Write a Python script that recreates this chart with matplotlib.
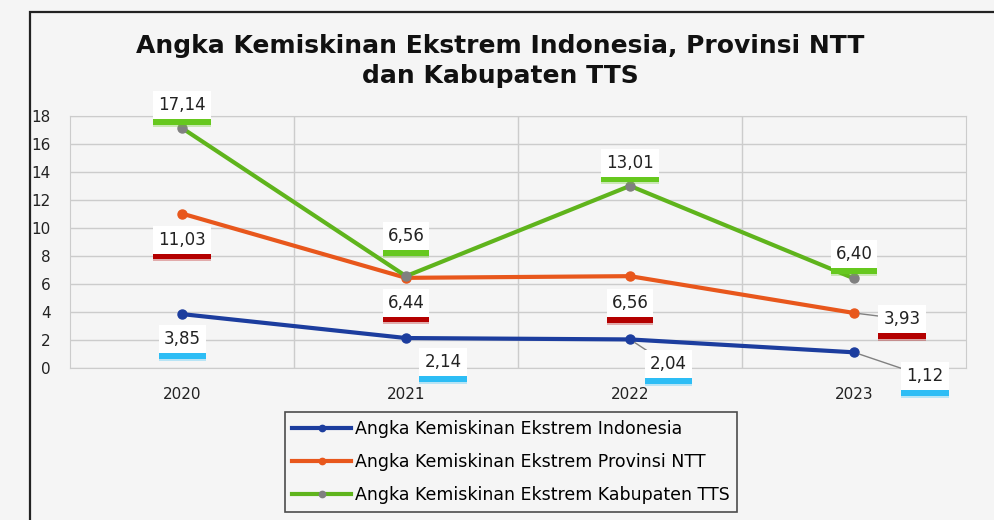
import matplotlib.pyplot as plt
import matplotlib.patheffects as pe
from matplotlib.patches import Rectangle

plt.rcParams['font.family'] = ['DejaVu Sans']

tahun = ['2020', '2021', '2022', '2023']
indonesia = [3.85, 2.14, 2.04, 1.12]
ntt = [11.03, 6.44, 6.56, 3.93]
tts = [17.14, 6.56, 13.01, 6.40]
seri = ['Angka Kemiskinan Ekstrem Indonesia',
        'Angka Kemiskinan Ekstrem Provinsi NTT',
        'Angka Kemiskinan Ekstrem Kabupaten TTS']

biru = '#1c3d9e'
oranye = '#e8571c'
hijau = '#5fb41c'
latar = '#f5f5f5'

fig = plt.figure(figsize=(9.94, 5.2), dpi=100, facecolor=latar)
# bingkai luar
fig.patches.append(Rectangle((30 / 994, -0.05), 1.0, 1 - 12 / 520 + 0.05,
                             transform=fig.transFigure, fill=False,
                             edgecolor='#222222', linewidth=1.6))
ax = fig.add_axes([70 / 994, 152 / 520, 896 / 994, 252 / 520])
ax.set_facecolor(latar)

x = list(range(len(tahun)))
ax.plot(x, indonesia, color=biru, lw=3, marker='o', ms=6.5, label=seri[0], zorder=3)
ax.plot(x, ntt, color=oranye, lw=3, marker='o', ms=6.5, label=seri[1], zorder=3)
ax.plot(x, tts, color=hijau, lw=3, marker='o', ms=6.5, mfc='#808080', mec='#808080',
        label=seri[2], zorder=3)

ax.set_xlim(-0.5, 3.5)
ax.set_ylim(0, 18)
ax.set_yticks(range(0, 19, 2))
ax.set_xticks(x)
ax.set_xticklabels(tahun)
ax.set_xticks([0.5, 1.5, 2.5], minor=True)
ax.grid(axis='y', color='#cccccc', lw=1)
ax.grid(axis='x', which='minor', color='#cccccc', lw=1)
ax.tick_params(length=0, labelsize=11, colors='#222222', which='both')
ax.tick_params(axis='x', pad=14)
ax.tick_params(axis='y', pad=14)
for s in ax.spines.values():
    s.set_color('#cccccc')

fig.text(0.503, 1 - 61 / 520, 'Angka Kemiskinan Ekstrem Indonesia, Provinsi NTT\ndan Kabupaten TTS',
         ha='center', va='center', fontsize=18, fontweight='bold', color='#111111',
         linespacing=1.3)


def label(xi, yi, teks, warna, dx, dy, garis=False):
    kw = dict(xy=(xi, yi), xycoords='data', xytext=(dx, dy), textcoords='offset pixels',
              ha='center', va='center', fontsize=12, color='#222222', zorder=5,
              bbox=dict(boxstyle='square,pad=0.3', fc='white', ec='none'))
    if garis:
        kw['arrowprops'] = dict(arrowstyle='-', color='#808080', lw=1, shrinkA=0, shrinkB=4)
    t = ax.annotate(teks, **kw)
    t.get_bbox_patch().set_path_effects([
        pe.SimplePatchShadow(offset=(0, -5.5), shadow_rgbFace=warna, alpha=0.3, rho=1),
        pe.SimplePatchShadow(offset=(0, -4), shadow_rgbFace=warna, alpha=1, rho=1),
        pe.Normal()])


off_tts = [(0, 23), (0, 40), (0, 23), (0, 24)]
off_ntt = [(0, -26), (0, -25), (0, -27), (48, -6)]
off_ind = [(0, -25), (37, -24), (38, -25), (71, -24)]
for i, v in enumerate(tts):
    label(i, v, f'{v:.2f}'.replace('.', ','), '#66c81e', *off_tts[i])
for i, v in enumerate(ntt):
    label(i, v, f'{v:.2f}'.replace('.', ','), '#b40000', *off_ntt[i], garis=(i == 3))
for i, v in enumerate(indonesia):
    label(i, v, f'{v:.2f}'.replace('.', ','), '#2dbdf5', *off_ind[i], garis=(i >= 2))

leg = fig.legend(loc='center', bbox_to_anchor=(511 / 994, 1 - 462 / 520), frameon=True,
                 fontsize=12.5, handlelength=3.4, handletextpad=0.2, labelspacing=0.85,
                 borderpad=0.45, borderaxespad=0, fancybox=False, edgecolor='#222222',
                 facecolor=latar, markerscale=0.7)
leg.get_frame().set_linewidth(1.2)

fig.savefig('out.png', dpi=100, facecolor=fig.get_facecolor())
